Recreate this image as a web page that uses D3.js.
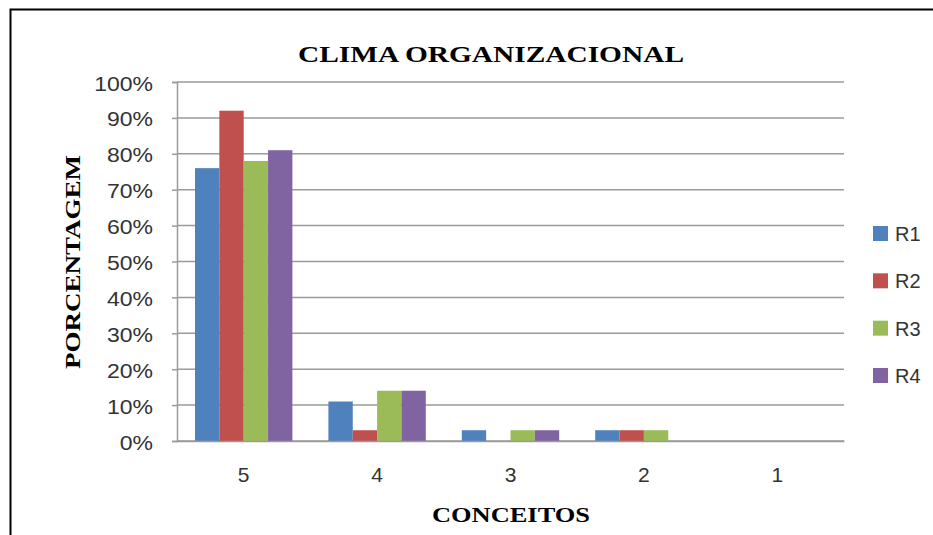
<!DOCTYPE html>
<html><head><meta charset="utf-8">
<script src="https://cdn.jsdelivr.net/npm/d3@7"></script>
<style>body{margin:0;background:#fff}svg{display:block}</style>
</head><body>
<svg id="c" width="933" height="535"></svg>
<script>
(function(){
const categories = ["5","4","3","2","1"];
const seriesNames = ["R1","R2","R3","R4"];
const R1 = [76, 11, 3, 3, 0];
const R2 = [92, 3, 0, 3, 0];
const R3 = [78, 14, 3, 3, 0];
const R4 = [81, 14, 3, 0, 0];
const seriesValues = [R1, R2, R3, R4];
const colors = ["#4F81BD","#C0504D","#9BBB59","#8064A2"];
const yTicks = [0,10,20,30,40,50,60,70,80,90,100];
const title = "CLIMA ORGANIZACIONAL";
const xTitle = "CONCEITOS";
const yTitle = "PORCENTAGEM";

const svg = d3.select("#c");
svg.append("rect").attr("x",10.5).attr("y",9.5).attr("width",940).attr("height",540)
  .attr("fill","none").attr("stroke","#000").attr("stroke-width",2);

const pL=177, pR=844, pT=82, pB=441;
const x = d3.scaleBand().domain(categories).range([pL,pR]);
const innerW = x.bandwidth()*0.73;
const xi = d3.scaleBand().domain(seriesNames).range([(x.bandwidth()-innerW)/2,(x.bandwidth()+innerW)/2]);
const y = d3.scaleLinear().domain([0,100]).range([pB,pT]);

svg.append("g").selectAll("line").data(yTicks).join("line")
  .attr("x1",pL).attr("x2",pR).attr("y1",d=>y(d)).attr("y2",d=>y(d))
  .attr("stroke","#9a9a9a").attr("stroke-width",1.5);

const yAxis = svg.append("g").attr("transform",`translate(${pL},0)`)
  .call(d3.axisLeft(y).tickValues(yTicks).tickFormat(d=>d+"%").tickSize(5).tickPadding(19));
yAxis.select(".domain").attr("stroke","#9a9a9a").attr("stroke-width",1.5);
yAxis.selectAll(".tick line").attr("stroke","#9a9a9a").attr("stroke-width",1.5);
yAxis.selectAll("text").attr("font-family","Liberation Sans, Arial, sans-serif").attr("font-size",20)
  .attr("fill","#333").attr("dy","0.4em")
  .each(function(){ const w=this.getComputedTextLength(); d3.select(this).attr("textLength",w*1.15).attr("lengthAdjust","spacingAndGlyphs"); });

const groups = svg.append("g").selectAll("g").data(seriesNames).join("g").attr("fill",(d,i)=>colors[i]);
groups.selectAll("rect").data((s,i)=>categories.map((c,j)=>({c,s,v:seriesValues[i][j]}))).join("rect")
  .attr("x",d=>x(d.c)+xi(d.s)).attr("width",xi.bandwidth())
  .attr("y",d=>y(d.v)).attr("height",d=>y(0)-y(d.v));

const xAxis = svg.append("g").attr("transform",`translate(0,${pB})`)
  .call(d3.axisBottom(x).tickSize(0).tickPadding(26));
xAxis.select(".domain").attr("stroke","#9a9a9a").attr("stroke-width",1.5);
xAxis.selectAll("text").attr("font-family","Liberation Sans, Arial, sans-serif").attr("font-size",21).attr("fill","#333");

svg.append("text").attr("x",491).attr("y",62).attr("text-anchor","middle")
  .attr("font-family","Liberation Serif, Times New Roman, serif").attr("font-weight","bold").attr("font-size",23)
  .attr("textLength",386).attr("lengthAdjust","spacingAndGlyphs").text(title);
svg.append("text").attr("x",511).attr("y",522).attr("text-anchor","middle")
  .attr("font-family","Liberation Serif, Times New Roman, serif").attr("font-weight","bold").attr("font-size",21)
  .attr("textLength",158).attr("lengthAdjust","spacingAndGlyphs").text(xTitle);
svg.append("text").attr("transform","translate(80,262) rotate(-90)").attr("text-anchor","middle")
  .attr("font-family","Liberation Serif, Times New Roman, serif").attr("font-weight","bold").attr("font-size",21)
  .attr("textLength",214).attr("lengthAdjust","spacingAndGlyphs").text(yTitle);

const legY = d3.scalePoint().domain(seriesNames).range([233,375]);
const leg = svg.append("g").selectAll("g").data(seriesNames).join("g")
  .attr("transform",d=>`translate(873,${legY(d)})`);
leg.append("rect").attr("x",0).attr("y",-7).attr("width",15).attr("height",15).attr("fill",(d,i)=>colors[i]);
leg.append("text").attr("x",22).attr("y",8).attr("font-family","Liberation Sans, Arial, sans-serif").attr("font-size",20)
  .attr("fill","#333").text(d=>d);
})();
</script>
</body></html>
